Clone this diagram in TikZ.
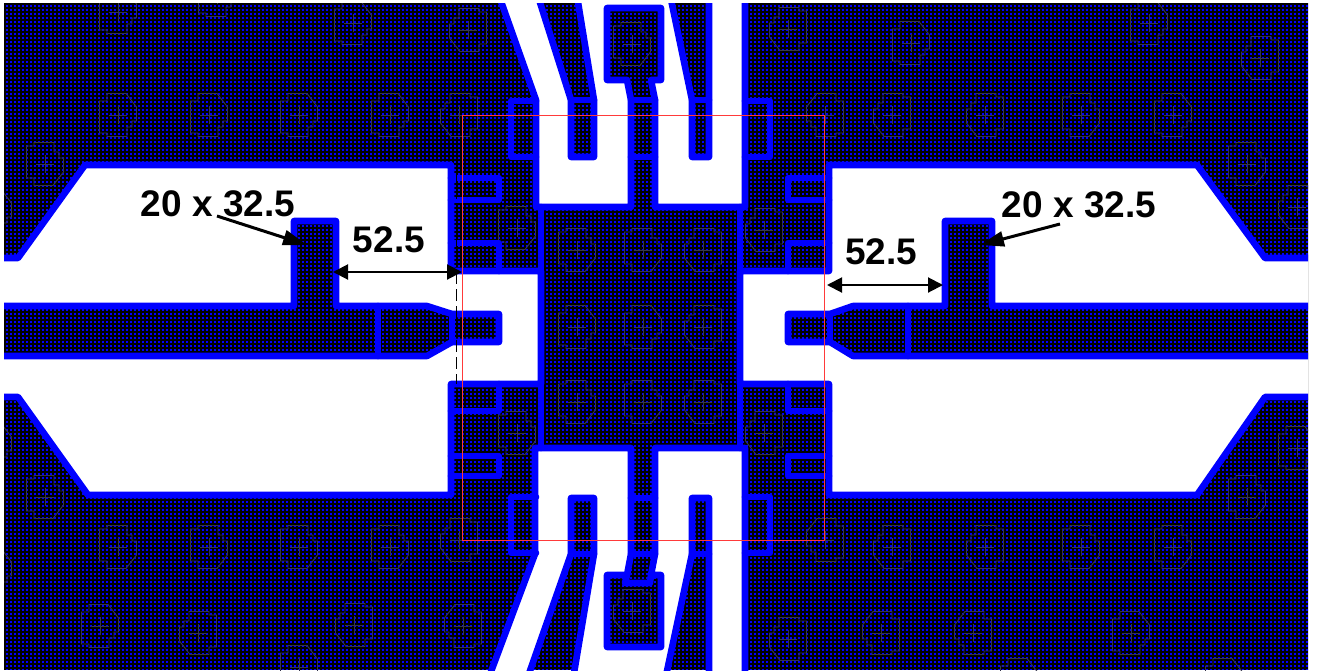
\documentclass[tikz,border=0pt]{standalone}
\usepackage{fontspec}
\setmainfont{Liberation Sans}
\usetikzlibrary{arrows.meta}
\definecolor{fieldblue}{HTML}{0000FF}
\definecolor{edgeblue}{HTML}{0000FF}
\definecolor{markgrey}{HTML}{36364C}
\definecolor{boxred}{HTML}{FF3A3A}
\tikzset{
  x=1pt,y=-1pt,
  metal/.style={draw=edgeblue,fill=white,line width=6.6pt,line join=round},
  trace/.style={draw=edgeblue,line width=6.6pt,line join=round,line cap=round},
  viamark/.style={draw=markgrey,line width=0.9pt},
  dimarrow/.style={draw=black,line width=2pt,{Triangle[length=15pt,width=15pt]}-{Triangle[length=15pt,width=15pt]}},
  leader/.style={draw=black,line width=3pt,-{Triangle[length=24pt,width=15pt]}},
  dimtext/.style={font=\fontsize{37}{40}\selectfont\bfseries,text=black,inner sep=0pt}
}
\begin{document}
\begin{tikzpicture}
\useasboundingbox (0,0) rectangle (1317,670);
\begin{scope}
\clip (4,3) rectangle (1308,670);
\fill[fieldblue] (4,3) rectangle (1308,670);
% fine mesh
\foreach \i in {0,...,326}{\fill[black] ({4+\i*4},3) rectangle ({5.6+\i*4},670);}
\foreach \i in {0,...,167}{\fill[black] (4,{3+\i*4}) rectangle (1308,{4.6+\i*4});}
% faint via marks
\foreach \cx/\cy/\sx/\sy in {
 118/12/1/1,217/-5/1/1,353/23/1/1,468/30/-1/-1,
 118/115/1/1,209/115/1/1,299/115/1/1,390/115/1/1,459/115/-1/-1,
 45/164/1/-1,-7/211/1/1,632/44/1/-1,
 788/29/-1/-1,911/43/1/1,1149/23/1/1,1260/58/-1/-1,
 825/115/-1/1,892/115/-1/-1,985/115/-1/-1,1081/115/1/-1,1173/115/1/1,
 1247/164/1/-1,1297/207/-1/-1,764/230/-1/-1,517/228/1/-1,
 -7/445/1/1,45/497/1/-1,118/547/1/-1,209/547/1/-1,299/547/1/-1,390/547/1/-1,459/540/-1/-1,
 100/626/1/1,198/633/-1/-1,354/625/-1/-1,463/626/-1/1,299/667/1/1,-7/570/1/1,
 632/611/-1/-1,764/433/-1/-1,1297/448/1/1,1247/497/1/-1,517/433/1/-1,
 825/540/-1/1,892/547/-1/-1,985/547/-1/-1,1081/547/1/-1,1173/547/1/-1,
 788/639/-1/-1,881/633/-1/1,973/633/-1/1,1131/633/1/1,1019/680/1/1,1224/680/1/1,
 577/250/1/-1,643/250/1/-1,703/250/-1/-1,
 577/327/1/1,643/327/1/1,703/327/-1/-1,
 577/402/1/-1,643/402/1/-1,703/402/-1/-1}{
 \begin{scope}[shift={(\cx,\cy)},xscale=\sx,yscale=\sy]
  \draw[viamark] (-11,-21.5) -- (8,-21.5) -- (18.5,-8) -- (18.5,6) -- (14,6) -- (14,12) -- (9,12) -- (9,21.5) -- (-11,21.5) -- (-11,18) -- (-18.5,18) -- (-18.5,-14) -- (-11,-14) -- cycle;
  \draw[viamark] (-9,0) -- (9,0) (0,-9) -- (0,9);
 \end{scope}
}
% left launch
\draw[metal] (-10,258) -- (18,258) -- (85,165) -- (451,165) -- (451,271) -- (541,271) -- (541,384) -- (451,384) -- (451,495) -- (88,495) -- (18,397) -- (-10,397) -- (-10,356) -- (427,356) -- (452,342) -- (499,342) -- (499,314) -- (452,314) -- (427,306) -- (336,306) -- (336,221) -- (294,221) -- (294,306) -- (-10,306) -- cycle;
% right launch
\draw[metal] (1320,258) -- (1265,258) -- (1197,165) -- (829,165) -- (829,271) -- (740,271) -- (740,384) -- (829,384) -- (829,495) -- (1197,495) -- (1265,397) -- (1320,397) -- (1320,356) -- (853,356) -- (830,342) -- (788,342) -- (788,314) -- (830,314) -- (853,306) -- (945,306) -- (945,221) -- (992,221) -- (992,306) -- (1320,306) -- cycle;
% top launch
\draw[metal] (497,-10) -- (536,100) -- (536,207) -- (631,207) -- (631,100) -- (627,80) -- (607,80) -- (607,8) -- (661,8) -- (661,80) -- (651,80) -- (655,100) -- (655,207) -- (745,207) -- (745,-10) -- (709,-10) -- (709,157) -- (692,157) -- (692,100) -- (669,-10) -- (576,-10) -- (594,100) -- (594,157) -- (571,157) -- (571,100) -- (536,-10) -- cycle;
% bottom launch
\draw[metal] (535,448) -- (631,448) -- (631,554) -- (627,575) -- (607,575) -- (607,647) -- (661,647) -- (661,575) -- (651,575) -- (655,554) -- (655,448) -- (745,448) -- (745,685) -- (709,685) -- (709,498) -- (692,498) -- (692,554) -- (664,685) -- (572,685) -- (594,554) -- (594,498) -- (571,498) -- (571,554) -- (525,685) -- (486,685) -- (535,554) -- cycle;
% central die outline and cross bars
\draw[trace] (541,207) -- (541,448) (740,207) -- (740,448);
\draw[trace] (378,306) -- (378,356) (452,314) -- (452,342);
\draw[trace] (908,306) -- (908,356) (830,314) -- (830,342);
\draw[trace] (571,100) -- (594,100) (692,100) -- (709,100) (631,100) -- (655,100) (631,157) -- (655,157);
\draw[trace] (571,554) -- (594,554) (692,554) -- (709,554) (631,554) -- (655,554) (631,498) -- (655,498);
\draw[trace] (627,575) -- (625,583) -- (650,583) -- (651,575);
% outer stubs
\draw[trace] (536,101) -- (511,101) -- (511,157) -- (536,157);
\draw[trace] (745,101) -- (770,101) -- (770,157) -- (745,157);
\draw[trace] (536,497) -- (511,497) -- (511,553) -- (536,553);
\draw[trace] (745,497) -- (770,497) -- (770,553) -- (745,553);
% side tabs
\draw[trace] (451,178) -- (499,178) -- (499,200) -- (451,200);
\draw[trace] (451,243) -- (499,243) -- (499,271);
\draw[trace] (499,384) -- (499,411) -- (451,411);
\draw[trace] (451,456) -- (499,456) -- (499,476) -- (451,476);
\draw[trace] (829,178) -- (788,178) -- (788,200) -- (829,200);
\draw[trace] (829,243) -- (788,243) -- (788,271);
\draw[trace] (788,384) -- (788,411) -- (829,411);
\draw[trace] (829,456) -- (788,456) -- (788,476) -- (829,476);
\end{scope}
% black reference line and red box
\draw[black,line width=0.9pt,dash pattern=on 12pt off 5pt] (456.5,170) -- (456.5,384);
\draw[boxred,line width=0.9pt] (462.5,115) rectangle (824,540);
% dimensions
\coordinate (gapLa) at (333,272);
\coordinate (gapLb) at (462,272);
\coordinate (gapRa) at (827,285);
\coordinate (gapRb) at (943,285);
\coordinate (padLtail) at (217,216);
\coordinate (padLtip) at (307,245);
\coordinate (padRtail) at (1060,224);
\coordinate (padRtip) at (980,245);
\draw[dimarrow] (gapLa) -- (gapLb);
\draw[dimarrow] (gapRa) -- (gapRb);
\draw[leader] (padLtail) -- (padLtip);
\draw[leader] (padRtail) -- (padRtip);
\node[dimtext] (padLlabel) at (218,204) {20 x 32.5};
\node[dimtext] (padRlabel) at (1079,205) {20 x 32.5};
\node[dimtext] (gapLlabel) at (389,240) {52.5};
\node[dimtext] (gapRlabel) at (881,252) {52.5};
\end{tikzpicture}
\end{document}
